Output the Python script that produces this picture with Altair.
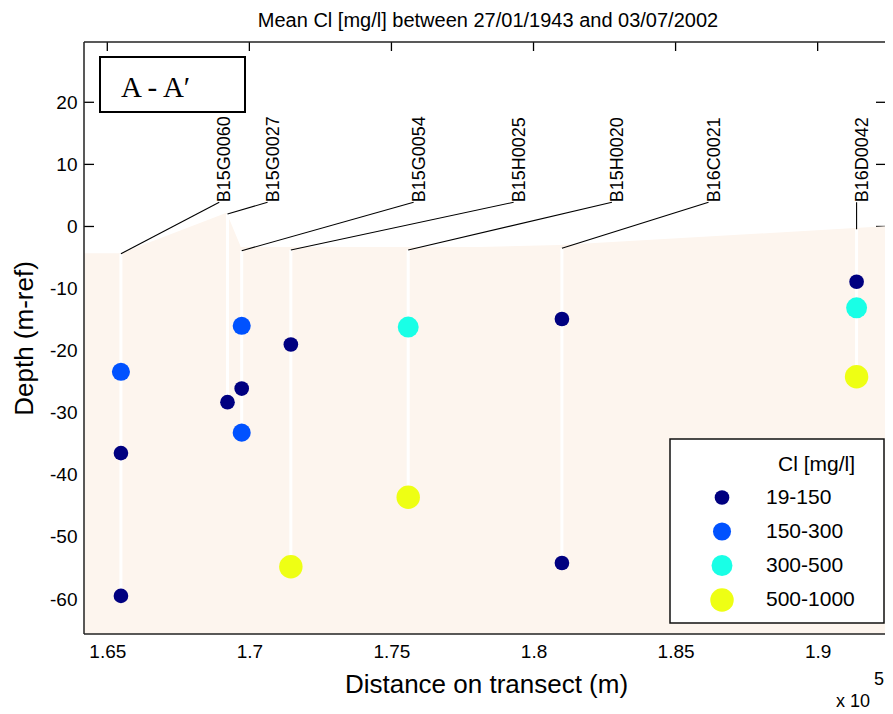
import altair as alt
import pandas as pd

# ---------------- data ----------------
# boreholes (x in units of 1e5 m, as on the axis)
bore_names = ["B15G0060", "B15G0027", "B15G0054", "B15H0025", "B15H0020", "B16C0021", "B16D0042"]
bore_x = [1.6548, 1.6923, 1.6973, 1.7146, 1.7559, 1.8100, 1.9137]
bore_top = [-4.4, 2.0, -3.9, -3.8, -3.8, -3.5, -0.45]
label_x = [1.6894, 1.7064, 1.7578, 1.7930, 1.8276, 1.8616, 1.9137]
label_y = [3.9, 3.9, 3.9, 3.9, 3.9, 3.9, 3.9]

# mean Cl samples
sample_bore = ["B15G0060", "B15G0060", "B15G0060",
               "B15G0027",
               "B15G0054", "B15G0054", "B15G0054",
               "B15H0025", "B15H0025",
               "B15H0020", "B15H0020",
               "B16C0021", "B16C0021",
               "B16D0042", "B16D0042", "B16D0042"]
sample_depth = [-23.4, -36.5, -59.5,
                -28.3,
                -16.0, -26.1, -33.2,
                -19.0, -54.8,
                -16.2, -43.6,
                -14.9, -54.2,
                -8.9, -13.1, -24.2]
sample_class = ["150-300", "19-150", "19-150",
                "19-150",
                "150-300", "19-150", "150-300",
                "19-150", "500-1000",
                "300-500", "500-1000",
                "19-150", "19-150",
                "19-150", "300-500", "500-1000"]

# ground surface
surf_x = [1.6418, 1.6548, 1.6920, 1.6970, 1.7811, 1.8093, 1.9131, 1.9265]
surf_y = [-4.3, -4.3, 2.2, -3.3, -3.3, -3.0, -0.25, 0.1]

class_names = ["19-150", "150-300", "300-500", "500-1000"]
class_colors = ["#000080", "#0052FF", "#19FFE6", "#EEFF14"]

x_ticks = [1.65, 1.7, 1.75, 1.8, 1.85, 1.9]
y_ticks = [-60, -50, -40, -30, -20, -10, 0, 10, 20]

# ---------------- styling ----------------
W, H = 801, 592
FONT = "Liberation Sans"
FILL = "#FDF5EE"
XDOM = [1.6418, 1.9237]
YDOM = [-65.63, 29.71]
SIZE_RANGE = [215, 550]

# ---------------- tables ----------------
bore_df = pd.DataFrame({"name": bore_names, "x": bore_x, "top": bore_top,
                        "lx": label_x, "ly": label_y})
samp_df = pd.DataFrame({"bore": sample_bore, "depth": sample_depth, "cls": sample_class})
samp_df["x"] = samp_df["bore"].map(dict(zip(bore_names, bore_x)))
bottom = samp_df.groupby("bore")["depth"].min()
bore_df["bottom"] = bore_df["name"].map(bottom)
surf_df = pd.DataFrame({"x": surf_x, "y": surf_y})
surf_df["base"] = YDOM[0]
xt_df = pd.DataFrame({"t": x_ticks})
yt_df = pd.DataFrame({"t": y_ticks})
one = pd.DataFrame({"a": [0]})

xscale = alt.Scale(domain=XDOM, nice=False, zero=False)
yscale = alt.Scale(domain=YDOM, nice=False, zero=False)

xaxis = alt.Axis(values=x_ticks, labelExpr="'' + datum.value", title="Distance on transect (m)",
                 domain=False, ticks=False, grid=False, labelFlush=False,
                 labelFont=FONT, labelFontSize=19, labelColor="black", labelPadding=8,
                 titleFont=FONT, titleFontSize=26, titleFontWeight="normal", titleColor="black",
                 titleX=402, titleY=58, titleBaseline="alphabetic", titleAlign="center")
yaxis = alt.Axis(values=y_ticks, labelExpr="'' + datum.value", title="Depth (m-ref)",
                 domain=False, ticks=False, grid=False, labelFlush=False,
                 labelFont=FONT, labelFontSize=19, labelColor="black", labelPadding=7,
                 titleFont=FONT, titleFontSize=26, titleFontWeight="normal", titleColor="black",
                 titleX=-60, titleY=296, titleAngle=270, titleBaseline="middle", titleAlign="center")


def X(field):
    return alt.X(field, type="quantitative", scale=xscale, axis=xaxis)


def Y(field):
    return alt.Y(field, type="quantitative", scale=yscale, axis=yaxis)


leg = alt.Legend(title="Cl [mg/l]", orient="none", legendX=626, legendY=412,
                 titleAnchor="end", titleFont=FONT, titleFontSize=21, titleFontWeight="normal",
                 titleColor="black", titlePadding=12,
                 labelFont=FONT, labelFontSize=21, labelColor="black", labelOffset=32,
                 symbolOffset=0, rowPadding=12, symbolType="circle", symbolStrokeWidth=0,
                 symbolOpacity=1, padding=0, zindex=2)

# ---------------- layers ----------------
top_ticks = alt.Chart(xt_df).mark_rule(color="black", strokeWidth=1.3).encode(
    x=X("t"), y=alt.value(0), y2=alt.value(9))
left_ticks = alt.Chart(yt_df).mark_rule(color="black", strokeWidth=1.3).encode(
    y=Y("t"), x=alt.value(0), x2=alt.value(10))
right_ticks = alt.Chart(yt_df).mark_rule(color="black", strokeWidth=1.3).encode(
    y=Y("t"), x=alt.value(W - 9), x2=alt.value(W))

ground = alt.Chart(surf_df).mark_area(color=FILL, opacity=1).encode(
    x=X("x"), y=Y("y"), y2="base:Q")

wells = alt.Chart(bore_df).mark_rule(color="white", strokeWidth=3).encode(
    x=X("x"), y=Y("top"), y2="bottom:Q")

leaders = alt.Chart(bore_df).mark_rule(color="black", strokeWidth=1.1).encode(
    x=X("lx"), y=Y("ly"), x2="x:Q", y2="top:Q")

border_top = alt.Chart(one).mark_rule(color="#222222", strokeWidth=1.5).encode(
    x=alt.value(0), x2=alt.value(W), y=alt.value(0))
border_left = alt.Chart(one).mark_rule(color="#222222", strokeWidth=1.5).encode(
    x=alt.value(0), y=alt.value(0), y2=alt.value(H))
border_bottom = alt.Chart(one).mark_rule(color="#222222", strokeWidth=1.5).encode(
    x=alt.value(0), x2=alt.value(W), y=alt.value(H))

points = alt.Chart(samp_df).mark_circle(opacity=1).encode(
    x=X("x"), y=Y("depth"),
    color=alt.Color("cls:O", scale=alt.Scale(domain=class_names, range=class_colors),
                    sort=class_names, legend=leg),
    size=alt.Size("cls:O", scale=alt.Scale(type="point", domain=class_names, range=SIZE_RANGE,
                                           padding=0),
                  sort=class_names, legend=leg))

labels = alt.Chart(bore_df).mark_text(angle=270, align="left", baseline="alphabetic", dy=11,
                                      font=FONT, fontSize=18, color="black").encode(
    x=X("lx"), y=Y("ly"), text="name:N")

title = alt.Chart(one).mark_text(align="center", baseline="alphabetic", font=FONT,
                                 fontSize=20, color="black").encode(
    x=alt.value(404), y=alt.value(-15),
    text=alt.value("Mean Cl [mg/l] between 27/01/1943 and 03/07/2002"))

ab_box = alt.Chart(one).mark_rect(fill="white", stroke="black", strokeWidth=2).encode(
    x=alt.value(16), x2=alt.value(161), y=alt.value(15), y2=alt.value(70))
ab_text = alt.Chart(one).mark_text(align="left", baseline="alphabetic", font="Liberation Serif",
                                   fontSize=29, color="black").encode(
    x=alt.value(37), y=alt.value(55), text=alt.value("A - A\u2032"))

leg_box = alt.Chart(one).mark_rect(fill="white", stroke="#111111", strokeWidth=1.5).encode(
    x=alt.value(586), x2=alt.value(800), y=alt.value(397), y2=alt.value(581))

exp_base = alt.Chart(one).mark_text(align="left", baseline="alphabetic", font=FONT,
                                    fontSize=18, color="black").encode(
    x=alt.value(752), y=alt.value(665), text=alt.value("x 10"))
exp_pow = alt.Chart(one).mark_text(align="left", baseline="alphabetic", font=FONT,
                                   fontSize=18, color="black").encode(
    x=alt.value(790), y=alt.value(643), text=alt.value("5"))

chart = alt.layer(
    top_ticks, left_ticks, right_ticks, ground, wells, leaders,
    border_top, border_left, border_bottom,
    points, labels, title, ab_box, ab_text, leg_box, exp_base, exp_pow
).properties(
    width=W, height=H,
    padding={"left": 76, "top": 34, "right": 0, "bottom": 80},
    autosize=alt.AutoSizeParams(type="none"),
    background="white",
).configure_view(stroke=None)

chart.save("out.html", embed_options={"renderer": "svg", "actions": False})
